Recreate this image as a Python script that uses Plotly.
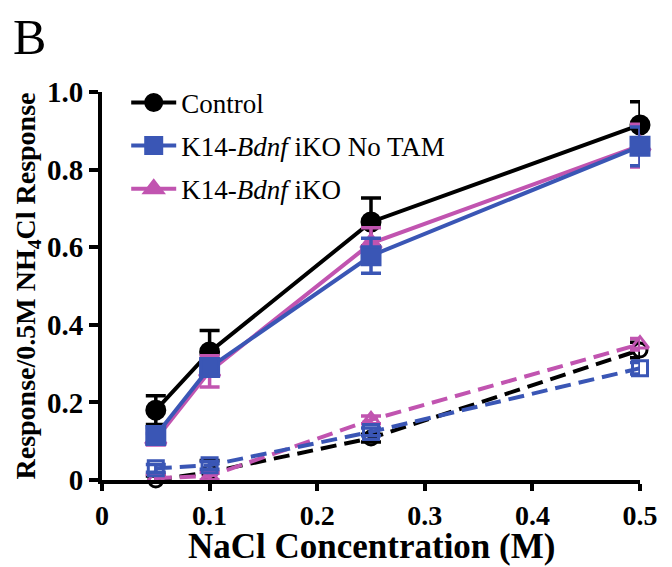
import plotly.graph_objects as go

conc = [0.05, 0.1, 0.25, 0.5]

ctrl = [0.18, 0.33, 0.665, 0.915]
ctrl_err = [0.037, 0.055, 0.062, 0.06]
notam = [0.115, 0.29, 0.578, 0.86]
notam_err = [0.02, 0.02, 0.045, 0.05]
ko = [0.105, 0.28, 0.61, 0.862]
ko_err = [0.015, 0.04, 0.04, 0.055]

ctrl_d = [0.0, 0.02, 0.108, 0.335]
ctrl_d_err = [0.01, 0.03, 0.01, 0.02]
notam_d = [0.03, 0.038, 0.124, 0.288]
notam_d_err = [0.01, 0.01, 0.01, 0.015]
ko_d = [0.005, 0.01, 0.155, 0.35]
ko_d_err = [0.01, 0.01, 0.01, 0.015]

names = ["Control", "K14-<i>Bdnf</i> iKO No TAM", "K14-<i>Bdnf</i> iKO"]
colors = ["#000000", "#3a56b5", "#c154b0"]
xticks = [0, 0.1, 0.2, 0.3, 0.4, 0.5]
xticklabels = ["0", "0.1", "0.2", "0.3", "0.4", "0.5"]
yticks = [0, 0.2, 0.4, 0.6, 0.8, 1.0]
yticklabels = ["0", "0.2", "0.4", "0.6", "0.8", "1.0"]
xtitle = "NaCl Concentration (M)"
ytitle = "Response/0.5M NH<sub>4</sub>Cl Response"

BLACK, BLUE, MAG = colors
FONT = "Liberation Serif"

fig = go.Figure()

def add(y, err, color, symbol, dash, name, show, rank, size, group):
    fig.add_trace(go.Scatter(
        x=conc, y=y, mode="lines+markers", name=name, showlegend=show,
        legendrank=rank, legendgroup=group,
        line=dict(color=color, width=4, dash=dash),
        marker=dict(symbol=symbol, size=size, color=color,
                    line=dict(color=color, width=3)),
        error_y=dict(type="data", array=err, color=color, thickness=3.5, width=10),
        cliponaxis=False,
    ))

DASH = "16px,8px"
# dashed (open markers)
add(ctrl_d, ctrl_d_err, BLACK, "circle-open", DASH, names[0], False, 1, 14, "c")
add(ko_d, ko_d_err, MAG, "triangle-up-open", DASH, names[2], False, 3, 15, "k")
add(notam_d, notam_d_err, BLUE, "square-open", DASH, names[1], False, 2, 15, "n")
# solid
add(ctrl, ctrl_err, BLACK, "circle", "solid", names[0], True, 1, 18, "c")
add(ko, ko_err, MAG, "triangle-up", "solid", names[2], True, 3, 18, "k")
add(notam, notam_err, BLUE, "square", "solid", names[1], True, 2, 18, "n")

fig.update_layout(
    width=672, height=567,
    margin=dict(l=94, r=40, t=84, b=95, autoexpand=False),
    paper_bgcolor="white", plot_bgcolor="white",
    font=dict(family=FONT, color="black"),
    legend=dict(x=0.045, y=1.035, xanchor="left", yanchor="top",
                font=dict(family=FONT, size=27), bgcolor="rgba(0,0,0,0)",
                traceorder="grouped", tracegroupgap=5, itemwidth=45),
    annotations=[
        dict(text="B", x=-0.17, y=1.142, xref="paper", yref="paper",
             xanchor="left", yanchor="middle", showarrow=False,
             font=dict(family=FONT, size=50, color="black")),
        dict(text="<b>" + xtitle + "</b>", x=0.5, y=-0.172, xref="paper", yref="paper",
             xanchor="center", yanchor="middle", showarrow=False,
             font=dict(family=FONT, size=35, color="black")),
    ],
)

fig.update_xaxes(
    range=[0, 0.5], tickvals=xticks, ticktext=xticklabels, automargin=False,
    showgrid=False, zeroline=False, showline=True, linecolor="black", linewidth=4,
    ticks="outside", ticklen=7, tickwidth=4, tickcolor="black",
    tickfont=dict(family=FONT, size=28, color="black", weight="bold"),
)
fig.update_yaxes(
    range=[0, 1.0], tickvals=yticks, ticktext=yticklabels, automargin=False,
    showgrid=False, zeroline=False, showline=True, linecolor="black", linewidth=4,
    ticks="outside", ticklen=9, tickwidth=4, tickcolor="black",
    tickfont=dict(family=FONT, size=29, color="black", weight="bold"),
    title=dict(text="<b>" + ytitle + "</b>", font=dict(family=FONT, size=28), standoff=4),
)

fig.write_html("out.html")
